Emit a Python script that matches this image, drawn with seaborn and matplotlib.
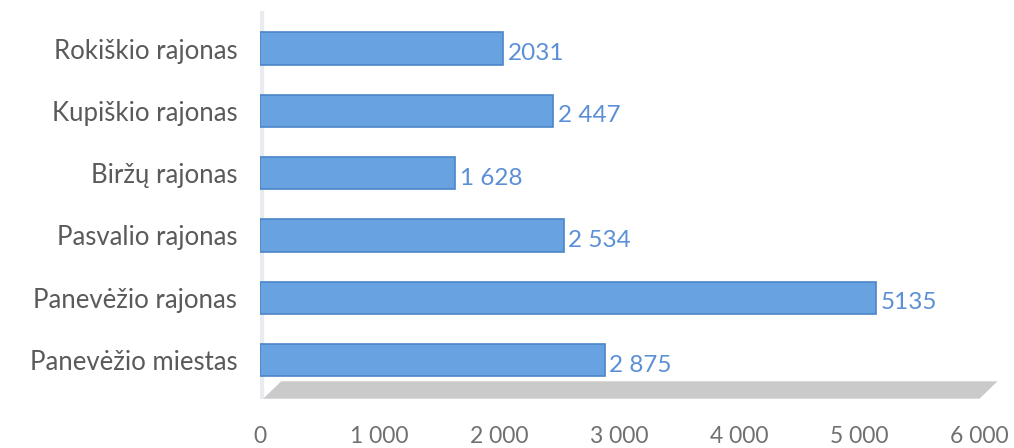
import matplotlib
matplotlib.use("Agg")
import matplotlib.pyplot as plt
import seaborn as sns
import pandas as pd
from matplotlib.patches import Polygon

categories = ["Rokiškio rajonas", "Kupiškio rajonas", "Biržų rajonas",
              "Pasvalio rajonas", "Panevėžio rajonas", "Panevėžio miestas"]
values = [2031, 2447, 1628, 2534, 5135, 2875]
value_labels = ["2031", "2 447", "1 628", "2 534", "5135", "2 875"]
x_ticks = [0, 1000, 2000, 3000, 4000, 5000, 6000]
x_tick_labels = ["0", "1 000", "2 000", "3 000", "4 000", "5 000", "6 000"]

sns.set_style("white")
plt.rcParams["font.family"] = ["Lato", "DejaVu Sans"]

df = pd.DataFrame({"cat": categories, "val": values})

fig = plt.figure(figsize=(10.14, 4.48), dpi=100)
ax = fig.add_axes([0.256, 0.11, 0.71, 0.865])

bar_color = "#68a2e0"
sns.barplot(data=df, y="cat", x="val", orient="h", color=bar_color,
            width=0.52, ax=ax, saturation=1, edgecolor="#4a86c8", linewidth=1.2)

for i, (v, lab) in enumerate(zip(values, value_labels)):
    ax.text(v + 40, i + 0.08, lab, va="center", ha="left", fontsize=17.5,
            color="#5b8fd6")

# 3D-like floor
floor = Polygon([[0.005, 0.0], [1.0, 0.0], [1.025, 0.045], [0.03, 0.045]],
                closed=True, transform=ax.transAxes, facecolor="#b4b4b4",
                edgecolor="none", clip_on=False, alpha=0.7)
ax.add_patch(floor)

ax.set_xlim(0, 6000)
ax.set_ylim(5.62, -0.6)
ax.set_xticks(x_ticks)
ax.set_xticklabels(x_tick_labels, fontsize=16.5, color="#707070")
ax.tick_params(axis="x", length=0, pad=20)
ax.tick_params(axis="y", length=0, pad=16, labelsize=18.5, labelcolor="#5a5a5a")
ax.set_xlabel("")
ax.set_ylabel("")
for s in ax.spines.values():
    s.set_visible(False)
ax.axvline(0, color="#e8ebef", lw=6, zorder=0)

fig.savefig("out.png", dpi=100, facecolor="white")
